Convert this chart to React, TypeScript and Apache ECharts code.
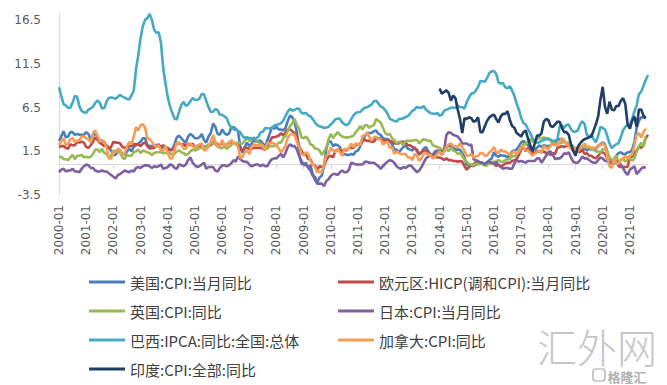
import React, { useEffect, useRef } from "react";
import * as echarts from "echarts";

const startYear = 2000;
const endYear = 2021;
const endMonth = 9;
const categories: string[] = [];
for (let y = startYear; y <= endYear; y++) {
  for (let m = 1; m <= 12; m++) {
    if (y === endYear && m > endMonth) break;
    categories.push(`${y}-${m < 10 ? "0" + m : m}`);
  }
}

const yLabelValues = [-3.5, 1.5, 6.5, 11.5, 16.5];

const usCPI: (number | null)[] = [
  2.7, 3.2, 3.8, 3.1, 3.2, 3.7, 3.7, 3.4, 3.5, 3.4, 3.4, 3.4,
  3.7, 3.5, 2.9, 3.3, 3.6, 3.2, 2.7, 2.7, 2.6, 2.1, 1.9, 1.6,
  1.1, 1.1, 1.5, 1.6, 1.2, 1.1, 1.5, 1.8, 1.5, 2.0, 2.2, 2.4,
  2.6, 3.0, 3.0, 2.2, 2.1, 2.1, 2.1, 2.2, 2.3, 2.0, 1.8, 1.9,
  1.9, 1.7, 1.7, 2.3, 3.1, 3.3, 3.0, 2.7, 2.5, 3.2, 3.5, 3.3,
  3.0, 3.0, 3.1, 3.5, 2.8, 2.5, 3.2, 3.6, 4.7, 4.3, 3.5, 3.4,
  4.0, 3.6, 3.4, 3.5, 4.2, 4.3, 4.1, 3.8, 2.1, 1.3, 2.0, 2.5,
  2.1, 2.4, 2.8, 2.6, 2.7, 2.7, 2.4, 2.0, 2.8, 3.5, 4.3, 4.1,
  4.3, 4.0, 4.0, 3.9, 4.2, 5.0, 5.6, 5.4, 4.9, 3.7, 1.1, 0.1,
  0.0, 0.2, -0.4, -0.7, -1.3, -1.4, -2.1, -1.5, -1.3, -0.2, 1.8, 2.7,
  2.6, 2.1, 2.3, 2.2, 2.0, 1.1, 1.2, 1.1, 1.1, 1.2, 1.1, 1.5,
  1.6, 2.1, 2.7, 3.2, 3.6, 3.6, 3.6, 3.8, 3.9, 3.5, 3.4, 3.0,
  2.9, 2.9, 2.7, 2.3, 1.7, 1.7, 1.4, 1.7, 2.0, 2.2, 1.8, 1.7,
  1.6, 2.0, 1.5, 1.1, 1.4, 1.8, 2.0, 1.5, 1.2, 1.0, 1.2, 1.5,
  1.6, 1.1, 1.5, 2.0, 2.1, 2.1, 2.0, 1.7, 1.7, 1.7, 1.3, 0.8,
  -0.1, 0.0, -0.1, -0.2, 0.0, 0.1, 0.2, 0.2, 0.0, 0.2, 0.5, 0.7,
  1.4, 1.0, 0.9, 1.1, 1.0, 1.0, 0.8, 1.1, 1.5, 1.6, 1.7, 2.1,
  2.5, 2.7, 2.4, 2.2, 1.9, 1.6, 1.7, 1.9, 2.2, 2.0, 2.2, 2.1,
  2.1, 2.2, 2.4, 2.5, 2.8, 2.9, 2.9, 2.7, 2.3, 2.5, 2.2, 1.9,
  1.6, 1.5, 1.9, 2.0, 1.8, 1.6, 1.8, 1.7, 1.7, 1.8, 2.1, 2.3,
  2.5, 2.3, 1.5, 0.3, 0.1, 0.6, 1.0, 1.3, 1.4, 1.2, 1.2, 1.4,
  1.4, 1.7, 2.6, 4.2, 5.0, 5.4, 5.4, 5.3, null,
];

const euroHICP: (number | null)[] = [
  2.0, 2.1, 2.1, 1.9, 1.8, 2.3, 2.2, 2.2, 2.6, 2.5, 2.6, 2.5,
  2.0, 1.9, 2.2, 2.6, 3.1, 2.8, 2.5, 2.3, 2.1, 2.2, 1.8, 2.0,
  2.6, 2.5, 2.5, 2.4, 2.0, 1.9, 2.0, 2.1, 2.1, 2.3, 2.3, 2.3,
  2.1, 2.4, 2.5, 2.1, 1.8, 1.9, 1.9, 2.1, 2.2, 2.0, 2.2, 2.0,
  1.8, 1.6, 1.7, 2.0, 2.5, 2.4, 2.3, 2.3, 2.1, 2.4, 2.2, 2.4,
  1.9, 2.1, 2.1, 2.1, 2.0, 2.1, 2.2, 2.2, 2.6, 2.5, 2.3, 2.2,
  2.4, 2.3, 2.2, 2.5, 2.5, 2.5, 2.4, 2.3, 1.7, 1.6, 1.9, 1.9,
  1.8, 1.8, 1.9, 1.9, 1.9, 1.9, 1.8, 1.7, 2.1, 2.6, 3.1, 3.1,
  3.2, 3.3, 3.6, 3.3, 3.7, 4.0, 4.0, 3.8, 3.6, 3.2, 2.1, 1.6,
  1.1, 1.2, 0.6, 0.6, 0.0, -0.1, -0.6, -0.2, -0.3, -0.1, 0.5, 0.9,
  1.0, 0.8, 1.6, 1.6, 1.7, 1.5, 1.7, 1.6, 1.9, 1.9, 1.9, 2.2,
  2.3, 2.4, 2.7, 2.8, 2.7, 2.7, 2.6, 2.6, 3.0, 3.0, 3.0, 2.8,
  2.7, 2.7, 2.7, 2.6, 2.4, 2.4, 2.4, 2.6, 2.6, 2.5, 2.2, 2.2,
  2.0, 1.8, 1.7, 1.2, 1.4, 1.6, 1.6, 1.3, 1.1, 0.7, 0.9, 0.8,
  0.8, 0.7, 0.5, 0.7, 0.5, 0.5, 0.4, 0.4, 0.3, 0.4, 0.3, -0.2,
  -0.6, -0.3, -0.1, 0.0, 0.3, 0.2, 0.2, 0.1, -0.1, 0.1, 0.1, 0.2,
  0.3, -0.2, 0.0, -0.2, -0.1, 0.1, 0.2, 0.2, 0.4, 0.5, 0.6, 1.1,
  1.7, 2.0, 1.5, 1.9, 1.4, 1.3, 1.3, 1.5, 1.5, 1.4, 1.5, 1.3,
  1.3, 1.1, 1.3, 1.2, 1.9, 2.0, 2.1, 2.0, 2.1, 2.2, 1.9, 1.5,
  1.4, 1.5, 1.4, 1.7, 1.2, 1.3, 1.0, 1.0, 0.8, 0.7, 1.0, 1.3,
  1.4, 1.2, 0.7, 0.3, 0.1, 0.3, 0.4, -0.2, -0.3, -0.3, -0.3, -0.3,
  0.9, 0.9, 1.3, 1.6, 2.0, 1.9, 2.2, 3.0, 3.4,
];

const ukCPI: (number | null)[] = [
  0.8, 0.9, 0.6, 0.6, 0.5, 0.8, 1.1, 0.6, 1.0, 1.0, 1.1, 0.8,
  0.9, 0.8, 0.9, 1.2, 1.7, 1.7, 1.4, 1.8, 1.3, 1.2, 0.8, 1.0,
  1.6, 1.5, 1.5, 1.3, 0.8, 0.6, 1.1, 1.0, 1.0, 1.4, 1.5, 1.7,
  1.3, 1.6, 1.5, 1.4, 1.3, 1.1, 1.3, 1.4, 1.4, 1.4, 1.3, 1.3,
  1.4, 1.3, 1.1, 1.2, 1.5, 1.6, 1.4, 1.3, 1.1, 1.2, 1.5, 1.7,
  1.6, 1.7, 1.9, 1.9, 1.9, 2.0, 2.3, 2.4, 2.5, 2.3, 2.1, 1.9,
  1.9, 2.0, 1.8, 2.0, 2.2, 2.5, 2.4, 2.5, 2.4, 2.4, 2.7, 3.0,
  2.7, 2.8, 3.1, 2.8, 2.5, 2.4, 1.9, 1.8, 1.8, 2.1, 2.1, 2.1,
  2.2, 2.5, 2.5, 3.0, 3.3, 3.8, 4.4, 4.7, 5.2, 4.5, 4.1, 3.1,
  3.0, 3.2, 2.9, 2.3, 2.2, 1.8, 1.8, 1.6, 1.1, 1.5, 1.9, 2.9,
  3.5, 3.0, 3.4, 3.7, 3.4, 3.2, 3.1, 3.1, 3.1, 3.2, 3.3, 3.7,
  4.0, 4.4, 4.0, 4.5, 4.5, 4.2, 4.4, 4.5, 5.2, 5.0, 4.8, 4.2,
  3.6, 3.4, 3.5, 3.0, 2.8, 2.4, 2.6, 2.5, 2.2, 2.7, 2.7, 2.7,
  2.7, 2.8, 2.8, 2.4, 2.7, 2.9, 2.8, 2.7, 2.7, 2.2, 2.1, 2.0,
  1.9, 1.7, 1.6, 1.8, 1.5, 1.9, 1.6, 1.5, 1.2, 1.3, 1.0, 0.5,
  0.3, 0.0, 0.0, -0.1, 0.1, 0.0, 0.1, 0.0, -0.1, -0.1, 0.1, 0.2,
  0.3, 0.3, 0.5, 0.3, 0.3, 0.5, 0.6, 0.6, 1.0, 0.9, 1.2, 1.6,
  1.8, 2.3, 2.3, 2.7, 2.9, 2.6, 2.6, 2.9, 3.0, 3.0, 3.1, 3.0,
  3.0, 2.7, 2.5, 2.4, 2.4, 2.4, 2.5, 2.7, 2.4, 2.4, 2.3, 2.1,
  1.8, 1.9, 1.9, 2.1, 2.0, 2.0, 2.1, 1.7, 1.7, 1.5, 1.5, 1.3,
  1.8, 1.7, 1.5, 0.8, 0.5, 0.6, 1.0, 0.2, 0.5, 0.7, 0.3, 0.6,
  0.7, 0.4, 0.7, 1.5, 2.1, 2.5, 2.0, 3.2, null,
];

const japanCPI: (number | null)[] = [
  -0.9, -0.6, -0.5, -0.8, -0.7, -0.7, -0.5, -0.8, -0.8, -0.9, -0.5, -0.2,
  0.0, -0.1, -0.4, -0.4, -0.7, -0.8, -0.8, -0.7, -0.8, -0.8, -1.0, -1.2,
  -1.4, -1.6, -1.2, -1.1, -0.9, -0.7, -0.8, -0.9, -0.7, -0.8, -0.4, -0.3,
  -0.4, -0.2, -0.1, -0.1, -0.2, -0.4, -0.2, -0.3, -0.2, 0.0, -0.5, -0.4,
  -0.3, 0.0, -0.1, -0.4, -0.5, 0.0, -0.1, -0.2, 0.0, 0.5, 0.8, 0.2,
  -0.1, -0.3, -0.2, 0.0, 0.2, -0.5, -0.3, -0.3, -0.3, -0.7, -0.8, -0.4,
  -0.1, -0.1, -0.2, -0.1, 0.1, 0.5, 0.3, 0.9, 0.6, 0.4, 0.3, 0.3,
  0.0, -0.2, -0.1, 0.0, 0.0, -0.2, 0.0, -0.2, -0.2, 0.3, 0.6, 0.7,
  0.7, 1.0, 1.2, 0.8, 1.3, 2.0, 2.3, 2.1, 2.1, 1.7, 1.0, 0.4,
  0.0, -0.1, -0.3, -0.1, -1.1, -1.8, -2.2, -2.2, -2.2, -2.5, -1.9, -1.7,
  -1.3, -1.1, -1.1, -1.2, -0.9, -0.7, -0.9, -0.9, -0.6, 0.2, 0.1, 0.0,
  0.0, 0.0, 0.0, 0.3, 0.3, 0.2, 0.2, 0.2, 0.0, -0.2, -0.5, -0.2,
  0.1, 0.3, 0.5, 0.4, 0.2, -0.2, -0.4, -0.5, -0.3, -0.4, -0.2, -0.1,
  -0.3, -0.6, -0.9, -0.7, -0.3, 0.2, 0.7, 0.9, 1.1, 1.1, 1.5, 1.6,
  1.4, 1.5, 1.6, 3.4, 3.7, 3.6, 3.4, 3.3, 3.2, 2.9, 2.4, 2.4,
  2.4, 2.2, 2.3, 0.6, 0.5, 0.4, 0.2, 0.2, 0.0, 0.3, 0.3, 0.2,
  0.0, 0.3, -0.1, -0.3, -0.5, -0.4, -0.4, -0.5, -0.5, 0.1, 0.5, 0.3,
  0.4, 0.3, 0.2, 0.4, 0.4, 0.4, 0.4, 0.7, 0.7, 0.2, 0.6, 1.0,
  1.4, 1.5, 1.1, 0.6, 0.7, 0.7, 0.9, 1.3, 1.2, 1.4, 0.8, 0.3,
  0.2, 0.2, 0.5, 0.9, 0.7, 0.7, 0.5, 0.3, 0.2, 0.2, 0.5, 0.8,
  0.7, 0.4, 0.4, 0.1, 0.1, 0.1, 0.3, 0.2, 0.0, -0.4, -0.9, -1.2,
  -0.6, -0.4, -0.2, -1.1, -0.8, -0.5, -0.3, -0.4, null,
];

const brazilIPCA: (number | null)[] = [
  8.85, 7.86, 6.92, 6.77, 6.47, 6.51, 7.06, 7.86, 7.77, 6.66, 6.14, 5.97,
  5.92, 6.27, 6.41, 6.61, 7.04, 7.35, 7.06, 6.41, 6.46, 7.21, 7.61, 7.67,
  7.62, 7.51, 7.75, 7.98, 7.77, 7.66, 7.51, 7.46, 7.93, 8.45, 10.93, 12.53,
  14.47, 15.85, 16.57, 16.77, 17.24, 16.57, 15.43, 15.07, 15.14, 13.98, 11.02, 9.3,
  7.71, 6.69, 5.89, 5.26, 5.15, 6.06, 6.81, 7.18, 6.71, 6.86, 7.24, 7.6,
  7.41, 7.39, 7.54, 8.07, 8.05, 7.27, 6.57, 6.02, 6.04, 6.36, 6.22, 5.69,
  5.7, 5.51, 5.32, 4.63, 4.23, 4.03, 3.97, 3.84, 3.7, 3.26, 3.02, 3.14,
  2.99, 3.02, 2.96, 3.0, 3.18, 3.69, 3.74, 4.18, 4.15, 4.12, 4.19, 4.46,
  4.56, 4.61, 4.73, 5.04, 5.58, 6.06, 6.37, 6.17, 6.25, 6.41, 6.39, 5.9,
  5.84, 5.9, 5.61, 5.53, 5.2, 4.8, 4.5, 4.36, 4.34, 4.17, 4.22, 4.31,
  4.59, 4.83, 5.17, 5.26, 5.22, 4.84, 4.6, 4.49, 4.7, 5.2, 5.63, 5.91,
  5.99, 6.01, 6.3, 6.51, 6.55, 6.71, 6.87, 7.23, 7.31, 6.97, 6.64, 6.5,
  6.22, 5.85, 5.24, 5.1, 4.99, 4.92, 5.2, 5.24, 5.28, 5.45, 5.53, 5.84,
  6.15, 6.31, 6.59, 6.49, 6.5, 6.7, 6.27, 6.09, 5.86, 5.84, 5.77, 5.91,
  5.59, 5.68, 6.15, 6.28, 6.37, 6.52, 6.5, 6.51, 6.75, 6.59, 6.56, 6.41,
  7.14, 7.7, 8.13, 8.17, 8.47, 8.89, 9.56, 9.53, 9.49, 9.93, 10.48, 10.67,
  10.71, 10.36, 9.39, 9.28, 9.32, 8.84, 8.74, 8.97, 8.48, 7.87, 6.99, 6.29,
  5.35, 4.76, 4.57, 4.08, 3.6, 3.0, 2.71, 2.46, 2.54, 2.7, 2.8, 2.95,
  2.86, 2.84, 2.68, 2.76, 2.86, 4.39, 4.48, 4.19, 4.53, 4.56, 4.05, 3.75,
  3.78, 3.89, 4.58, 4.94, 4.66, 3.37, 3.22, 3.43, 2.89, 2.54, 3.27, 4.31,
  4.19, 4.01, 3.3, 2.4, 1.88, 2.13, 2.31, 2.44, 3.14, 3.92, 4.31, 4.52,
  4.56, 5.2, 6.1, 6.76, 8.06, 8.35, 8.99, 9.68, 10.25,
];

const canadaCPI: (number | null)[] = [
  2.2, 2.7, 3.0, 2.2, 2.4, 2.9, 3.0, 2.6, 2.7, 2.8, 3.2, 3.2,
  3.0, 2.9, 2.5, 3.6, 3.9, 3.3, 2.6, 2.8, 2.6, 1.9, 0.7, 0.7,
  1.3, 1.5, 1.8, 1.7, 1.0, 1.3, 2.1, 2.6, 2.3, 3.2, 4.3, 3.9,
  4.5, 4.6, 4.2, 3.0, 2.9, 2.6, 2.2, 2.0, 2.2, 1.6, 1.6, 2.1,
  1.3, 0.7, 0.7, 1.7, 2.5, 2.5, 2.3, 1.8, 1.8, 2.3, 2.4, 2.1,
  1.9, 2.1, 2.3, 2.4, 1.6, 1.7, 2.0, 2.6, 3.4, 2.6, 2.0, 2.1,
  2.8, 2.2, 2.2, 2.4, 2.8, 2.4, 2.3, 2.1, 0.7, 0.9, 1.4, 1.6,
  1.2, 2.0, 2.3, 2.2, 2.2, 2.2, 2.2, 1.7, 2.5, 2.4, 2.5, 2.4,
  2.2, 1.8, 1.4, 1.7, 2.2, 3.1, 3.4, 3.5, 3.4, 2.6, 2.0, 1.2,
  1.1, 1.4, 1.2, 0.4, 0.1, -0.3, -0.9, -0.8, -0.9, 0.1, 1.0, 1.3,
  1.9, 1.6, 1.4, 1.8, 1.4, 1.0, 1.8, 1.7, 1.9, 2.4, 2.0, 2.4,
  2.3, 2.2, 3.3, 3.3, 3.7, 3.1, 2.7, 3.1, 3.2, 2.9, 2.9, 2.3,
  2.5, 2.6, 1.9, 2.0, 1.2, 1.5, 1.3, 1.2, 1.2, 1.2, 0.8, 0.8,
  0.5, 1.2, 1.0, 0.4, 0.7, 1.2, 1.3, 1.1, 1.1, 0.7, 0.9, 1.2,
  1.5, 1.1, 1.5, 2.0, 2.3, 2.4, 2.1, 2.1, 2.0, 2.4, 2.0, 1.5,
  1.0, 1.0, 1.2, 0.8, 0.9, 1.0, 1.3, 1.3, 1.0, 1.0, 1.4, 1.6,
  2.0, 1.4, 1.3, 1.7, 1.5, 1.5, 1.3, 1.1, 1.3, 1.5, 1.2, 1.5,
  2.1, 2.0, 1.6, 1.6, 1.3, 1.0, 1.2, 1.4, 1.6, 1.4, 2.1, 1.9,
  1.7, 2.2, 2.3, 2.2, 2.2, 2.5, 3.0, 2.8, 2.2, 2.4, 1.7, 2.0,
  1.4, 1.5, 1.9, 2.0, 2.4, 2.0, 2.0, 1.9, 1.9, 1.9, 2.2, 2.2,
  2.4, 2.2, 0.9, -0.2, -0.4, 0.7, 0.1, 0.1, 0.5, 0.7, 1.0, 0.7,
  1.0, 1.1, 2.2, 3.4, 3.6, 3.1, 3.7, 4.1, null,
];

const indiaMissingMonths = 168;
const indiaCPIValues: number[] = [
  8.7, 8.1, 8.3, 8.5, 8.2, 7.3, 7.9, 7.6, 6.3, 5.2, 3.6, 5.3,
  5.2, 5.4, 5.3, 4.9, 5.0, 5.4, 3.7, 3.7, 4.4, 5.0, 5.4, 5.6,
  5.7, 5.2, 4.8, 5.5, 5.8, 5.8, 6.1, 5.1, 4.4, 4.2, 3.6, 3.4,
  3.2, 3.7, 3.9, 3.0, 2.2, 1.5, 2.4, 3.3, 3.3, 3.6, 4.9, 5.2,
  5.1, 4.4, 4.3, 4.6, 4.9, 4.9, 4.2, 3.7, 3.7, 3.4, 2.3, 1.6,
  1.0, 2.0, 2.4, 2.7, 2.9, 3.0, 3.1, 3.2, 3.9, 4.6, 5.5, 7.4,
  8.9, 6.6, 5.8, 7.2, 6.3, 6.2, 6.7, 6.7, 7.3, 7.6, 6.9, 4.6,
  4.1, 5.0, 5.5, 4.3, 6.3, 6.3, 5.6, 5.3,
];
const indiaCPI: (number | null)[] = [
  ...new Array(indiaMissingMonths).fill(null),
  ...indiaCPIValues,
  null,
];

const seriesNames = [
  "美国:CPI:当月同比",
  "欧元区:HICP(调和CPI):当月同比",
  "英国:CPI:同比",
  "日本:CPI:当月同比",
  "巴西:IPCA:同比:全国:总体",
  "加拿大:CPI:同比",
  "印度:CPI:全部:同比",
];
const seriesData = [usCPI, euroHICP, ukCPI, japanCPI, brazilIPCA, canadaCPI, indiaCPI];
const seriesColors = ["#4a7ebb", "#be4b48", "#98b954", "#7d60a0", "#46aac5", "#f59d56", "#1f3f66"];

const leftLegend = [seriesNames[0], seriesNames[2], seriesNames[4], seriesNames[6]];
const rightLegend = [seriesNames[1], seriesNames[3], seriesNames[5]];

export default function App() {
  const ref = useRef<HTMLDivElement>(null);
  useEffect(() => {
    if (!ref.current) return;
    const chart = echarts.init(ref.current, null, { renderer: "svg" });
    const axisFont = "DejaVu Sans";
    const legendCommon = {
      orient: "vertical" as const,
      top: 274,
      height: 110,
      padding: 0,
      icon: "rect",
      itemWidth: 36,
      itemHeight: 3,
      itemGap: 13,
      selectedMode: false,
      textStyle: {
        fontSize: 15,
        lineHeight: 16,
        color: "#404040",
        fontFamily: "Noto Sans CJK SC",
      },
    };
    chart.setOption({
      animation: false,
      backgroundColor: "#ffffff",
      grid: { left: 59, right: 19, top: 14, bottom: 190, containLabel: false },
      legend: [
        { ...legendCommon, left: 89, data: leftLegend },
        { ...legendCommon, left: 338, data: rightLegend },
      ],
      xAxis: [
        {
          type: "category",
          data: categories,
          boundaryGap: false,
          axisLine: { onZero: true, lineStyle: { color: "#d9d9d9", width: 1 } },
          axisTick: { show: true, interval: 11, length: 5, lineStyle: { color: "#d9d9d9" } },
          axisLabel: { show: false },
          splitLine: { show: false },
        },
        {
          type: "category",
          data: categories,
          boundaryGap: false,
          position: "bottom",
          axisLine: { show: false, onZero: false },
          axisTick: { show: false },
          axisLabel: {
            interval: 11,
            rotate: 90,
            margin: 10,
            fontSize: 12,
            color: "#595959",
            fontFamily: axisFont,
          },
          splitLine: { show: false },
        },
      ],
      yAxis: {
        type: "value",
        min: -3.5,
        max: 17.24,
        axisLine: { show: true, lineStyle: { color: "#d9d9d9", width: 1 } },
        axisTick: { show: false },
        splitLine: { show: false },
        axisLabel: {
          customValues: yLabelValues,
          formatter: (v: number) => v.toFixed(1),
          margin: 18,
          fontSize: 12,
          color: "#595959",
          fontFamily: axisFont,
        },
      },
      series: seriesNames.map((name, i) => ({
        name,
        type: "line",
        xAxisIndex: 0,
        data: seriesData[i],
        symbol: "none",
        clip: false,
        color: seriesColors[i],
        lineStyle: { width: 2.6, color: seriesColors[i] },
        emphasis: { disabled: true },
      })),
      graphic: [
        {
          type: "text",
          left: 537,
          top: 326,
          style: {
            text: "汇外网",
            font: "200 40px 'Noto Sans CJK SC'",
            lineHeight: 40,
            fill: "#c6c6c6",
          },
          z: 10,
        },
        {
          type: "rect",
          shape: { x: 593, y: 369, width: 12, height: 12, r: 3 },
          style: { fill: "rgba(255,255,255,0.6)", stroke: "#a8a8a8", lineWidth: 1.2 },
          z: 11,
        },
        {
          type: "text",
          left: 607,
          top: 369,
          style: {
            text: "格隆汇",
            font: "bold 13px 'Noto Sans CJK SC'",
            lineHeight: 13,
            fill: "#b0b0b0",
            stroke: "#ffffff",
            lineWidth: 1,
          },
          z: 11,
        },
      ],
    });
    return () => chart.dispose();
  }, []);
  return (
    <div
      ref={ref}
      style={{ position: "absolute", left: 0, top: 0, width: 667, height: 385, background: "#fff" }}
    />
  );
}
